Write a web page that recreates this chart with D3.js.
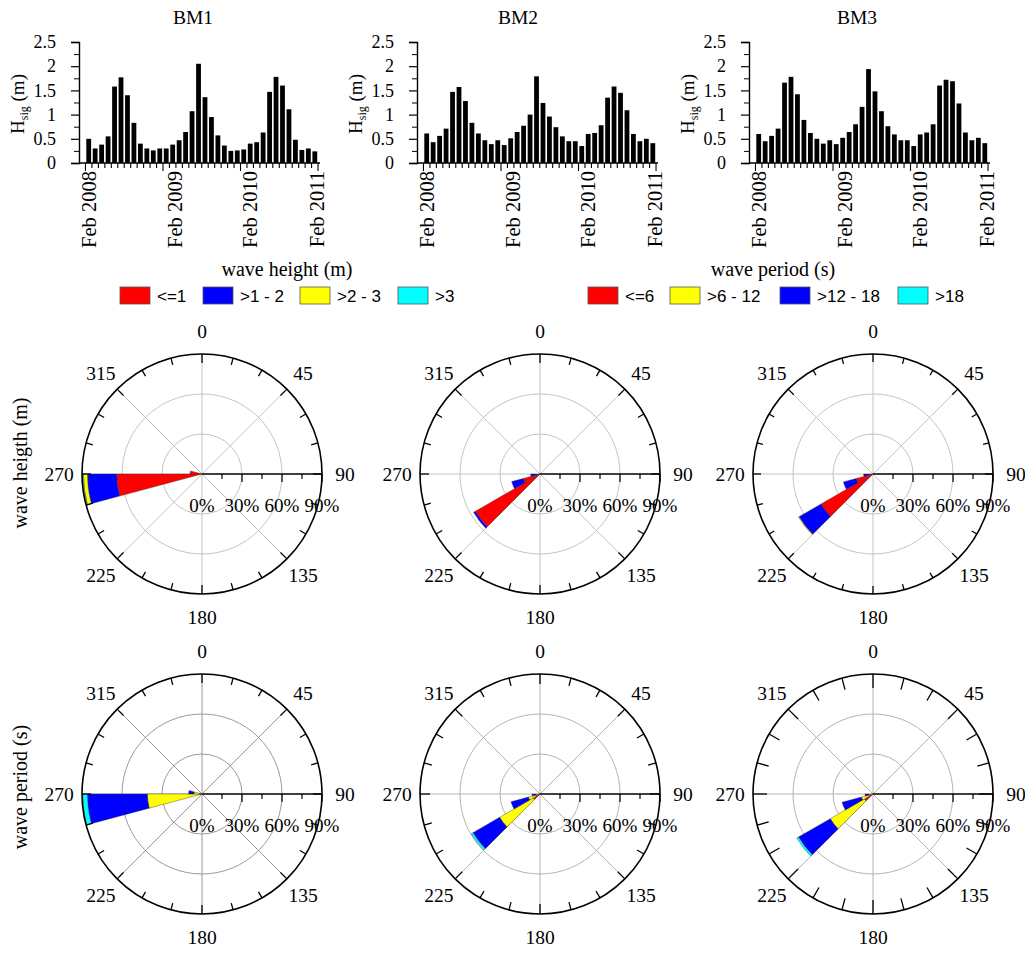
<!DOCTYPE html>
<html>
<head>
<meta charset="utf-8">
<script src="https://cdn.jsdelivr.net/npm/d3@7"></script>
<style>
  body { margin: 0; background: #fff; }
  svg { display: block; }
</style>
</head>
<body>
<script>
// Hauteur significative mensuelle (m), Feb 2008 -> Jan 2011
const hsBM1 = [0.5, 0.3, 0.38, 0.55, 1.58, 1.77, 1.4, 0.83, 0.4, 0.3, 0.26, 0.3,
  0.3, 0.38, 0.47, 0.64, 1.07, 2.05, 1.36, 0.95, 0.57, 0.36, 0.25, 0.26,
  0.28, 0.4, 0.43, 0.63, 1.47, 1.78, 1.6, 1.11, 0.48, 0.27, 0.3, 0.24]
const hsBM2 = [0.61, 0.43, 0.56, 0.71, 1.47, 1.57, 1.28, 0.83, 0.61, 0.47, 0.39, 0.47,
  0.37, 0.51, 0.64, 0.77, 1.0, 1.79, 1.24, 0.96, 0.74, 0.55, 0.45, 0.45,
  0.35, 0.6, 0.62, 0.78, 1.35, 1.58, 1.45, 1.09, 0.6, 0.45, 0.5, 0.41]
const hsBM3 = [0.6, 0.45, 0.56, 0.71, 1.66, 1.78, 1.42, 0.89, 0.62, 0.5, 0.4, 0.47,
  0.39, 0.52, 0.64, 0.8, 1.16, 1.94, 1.48, 1.07, 0.76, 0.59, 0.47, 0.47,
  0.35, 0.59, 0.63, 0.8, 1.6, 1.72, 1.69, 1.23, 0.63, 0.47, 0.52, 0.41]

const stations = ["BM1", "BM2", "BM3"]
const yTicks = [0, 0.5, 1, 1.5, 2, 2.5]
const xTickLabels = ["Feb 2008", "Feb 2009", "Feb 2010", "Feb 2011"]
const xTickMonth = [0, 13.4, 25, 35.4]

// Classes des roses
const heightClasses = ["<=1", ">1 - 2", ">2 - 3", ">3"]
const heightColors = ["#ff0000", "#0000ff", "#ffff00", "#00ffff"]
const periodClasses = ["<=6", ">6 - 12", ">12 - 18", ">18"]
const periodColors = ["#ff0000", "#ffff00", "#0000ff", "#00ffff"]

const dirLabels = [0, 45, 90, 135, 180, 225, 270, 315]
const radialTicks = [0, 30, 60, 90]

// secteurs de 15 degres : dir = debut du secteur, v = % par classe
const roseHeightBM1 = [
  { dir: 255, v: [64, 22, 3, 0.6] },
  { dir: 270, v: [9, 0, 0, 0] }
]
const roseHeightBM2 = [
  { dir: 225, v: [56, 1.5, 0, 0] },
  { dir: 240, v: [13, 9, 0, 0] },
  { dir: 255, v: [2, 5, 0, 0] }
]
const roseHeightBM3 = [
  { dir: 225, v: [45, 19, 0.5, 0] },
  { dir: 240, v: [13, 10, 0, 0] },
  { dir: 255, v: [3, 4, 0, 0] }
]
const rosePeriodBM1 = [
  { dir: 255, v: [2, 39, 45, 3.5] },
  { dir: 270, v: [2, 4, 4, 0] }
]
const rosePeriodBM2 = [
  { dir: 225, v: [6, 29, 23, 1.5] },
  { dir: 240, v: [3, 6, 13.5, 0] },
  { dir: 255, v: [1, 2, 3, 0] }
]
const rosePeriodBM3 = [
  { dir: 225, v: [7.5, 29.5, 27.5, 1.5] },
  { dir: 240, v: [3, 6, 15, 0] },
  { dir: 255, v: [1, 2, 3, 0] }
]

const serif = "'Liberation Serif', 'Times New Roman', serif"
const sans = "'Liberation Sans', Arial, sans-serif"

let svg = d3.select("body")
  .append("svg")
  .attr("width", 1025)
  .attr("height", 953)

svg.append("rect").attr("width", 1025).attr("height", 953).attr("fill", "#fff")

// ---------- Histogrammes ----------
let barPanels = [
  { data: hsBM1, x0: 79, titleX: 193 },
  { data: hsBM2, x0: 417, titleX: 518 },
  { data: hsBM3, x0: 749, titleX: 857 }
]
let barTop = 42, barBottom = 163, axisLen = 241

barPanels.forEach((p, i) => {
  let g = svg.append("g")

  let x = d3.scaleLinear()
    .domain([0, 35])
    .range([p.x0 + 9.7, p.x0 + 235.8])
  let y = d3.scaleLinear()
    .domain([0, 2.5])
    .range([barBottom, barTop])

  g.append("text")
    .attr("x", p.titleX)
    .attr("y", 24)
    .attr("text-anchor", "middle")
    .style("font-family", serif)
    .style("font-size", "19.5px")
    .text(stations[i])

  // bars
  g.append("g")
    .selectAll("rect")
    .data(p.data)
    .join("rect")
    .attr("x", (d, k) => x(k) - 2.4)
    .attr("width", 4.8)
    .attr("y", d => y(d))
    .attr("height", d => y(0) - y(d))
    .attr("fill", "#000")

  // axe Y
  let yAxis = g.append("g")
    .attr("transform", "translate(" + p.x0 + ",0)")
    .call(d3.axisLeft(y).tickValues(yTicks).tickSize(8).tickPadding(15).tickFormat(d3.format("")))
  yAxis.select(".domain").attr("stroke-width", 1.4)
  yAxis.selectAll(".tick line").attr("stroke-width", 1.2)
  yAxis.selectAll("text")
    .style("font-family", serif)
    .style("font-size", "18px")
    .attr("fill", "#000")
  g.append("g")
    .attr("transform", "translate(" + p.x0 + ",0)")
    .call(d3.axisLeft(y).tickValues([0.25, 0.75, 1.25, 1.75, 2.25]).tickSize(5).tickFormat(""))
    .call(s => s.select(".domain").remove())

  // axe X
  g.append("line")
    .attr("x1", p.x0).attr("x2", p.x0 + axisLen)
    .attr("y1", barBottom).attr("y2", barBottom)
    .attr("stroke", "#000").attr("stroke-width", 1.4)
  g.append("g")
    .selectAll("line")
    .data(d3.range(37))
    .join("line")
    .attr("x1", k => x(k - 0.5)).attr("x2", k => x(k - 0.5))
    .attr("y1", barBottom)
    .attr("y2", k => (k === 0 || k === 12 || k === 24 || k === 36) ? barBottom + 8 : barBottom + 5)
    .attr("stroke", "#000").attr("stroke-width", 1.1)

  g.append("g")
    .selectAll("text")
    .data(xTickLabels)
    .join("text")
    .attr("transform", (d, k) => "translate(" + (x(xTickMonth[k]) + 7) + "," + (barBottom + 8) + ") rotate(-90)")
    .attr("text-anchor", "end")
    .style("font-family", serif)
    .style("font-size", "20.5px")
    .text(d => d)

  // label Hsig
  let lab = g.append("text")
    .attr("transform", "translate(" + (p.x0 - 55) + ",104) rotate(-90)")
    .attr("text-anchor", "middle")
    .style("font-family", serif)
    .style("font-size", "19px")
  lab.append("tspan").text("H")
  lab.append("tspan").attr("dy", 4).style("font-size", "12px").text("sig")
  lab.append("tspan").attr("dy", -4).text(" (m)")
})

// ---------- Legendes ----------
function drawLegend(title, titleX, classes, colors, boxX) {
  let g = svg.append("g")
  g.append("text")
    .attr("x", titleX).attr("y", 276)
    .attr("text-anchor", "middle")
    .style("font-family", serif)
    .style("font-size", "20px")
    .text(title)
  classes.forEach((c, k) => {
    g.append("rect")
      .attr("x", boxX[k]).attr("y", 287)
      .attr("width", 30).attr("height", 17)
      .attr("fill", colors[k])
      .attr("stroke", "#555").attr("stroke-width", 0.8)
    g.append("text")
      .attr("x", boxX[k] + 37).attr("y", 302)
      .style("font-family", sans)
      .style("font-size", "17px")
      .text(c)
  })
}
drawLegend("wave height (m)", 287, heightClasses, heightColors, [120, 203, 300, 398])
drawLegend("wave period (s)", 773, periodClasses, periodColors, [588, 670, 780, 898])

// ---------- Roses ----------
const R = 120
let r = d3.scaleLinear().domain([0, 90]).range([0, R])
const rad = deg => deg * Math.PI / 180
const px = (deg, d) => Math.sin(rad(deg)) * d
const py = (deg, d) => -Math.cos(rad(deg)) * d

function drawRose(cx, cy, sectors, colors, gridColor, tickLen) {
  let g = svg.append("g").attr("transform", "translate(" + cx + "," + cy + ")")

  // grille
  g.selectAll("circle.grid")
    .data([30, 60])
    .join("circle")
    .attr("class", "grid")
    .attr("r", d => r(d))
    .attr("fill", "none")
    .attr("stroke", gridColor)
    .attr("stroke-width", 1)
  g.selectAll("line.spoke")
    .data([0, 45, 135, 180, 225, 270, 315])
    .join("line")
    .attr("class", "spoke")
    .attr("x1", 0).attr("y1", 0)
    .attr("x2", d => px(d, R)).attr("y2", d => py(d, R))
    .attr("stroke", gridColor)
    .attr("stroke-width", 1)

  // secteurs empiles
  let arc = d3.arc()
  sectors.forEach(s => {
    let cum = 0
    s.v.forEach((v, k) => {
      if (v <= 0) return
      g.append("path")
        .attr("d", arc({
          innerRadius: r(cum),
          outerRadius: r(cum + v),
          startAngle: rad(s.dir),
          endAngle: rad(s.dir + 15)
        }))
        .attr("fill", colors[k])
        .attr("stroke", "#333")
        .attr("stroke-width", 0.4)
      cum += v
    })
  })

  // cercle exterieur + graduations
  g.append("circle")
    .attr("r", R)
    .attr("fill", "none")
    .attr("stroke", "#000")
    .attr("stroke-width", 1.6)
  g.selectAll("line.tick")
    .data(d3.range(0, 360, 15))
    .join("line")
    .attr("class", "tick")
    .attr("x1", d => px(d, R)).attr("y1", d => py(d, R))
    .attr("x2", d => px(d, R - (d % 45 === 0 ? tickLen + 2 : tickLen)))
    .attr("y2", d => py(d, R - (d % 45 === 0 ? tickLen + 2 : tickLen)))
    .attr("stroke", "#000")
    .attr("stroke-width", 1.3)

  // axe radial
  g.append("line")
    .attr("x1", 0).attr("y1", 0).attr("x2", R).attr("y2", 0)
    .attr("stroke", "#000").attr("stroke-width", 1.4)
  g.selectAll("line.rtick")
    .data([15, 30, 45, 60, 75, 90])
    .join("line")
    .attr("class", "rtick")
    .attr("x1", d => r(d)).attr("x2", d => r(d))
    .attr("y1", 0).attr("y2", d => d % 30 === 0 ? 8 : 5)
    .attr("stroke", "#000").attr("stroke-width", 1.2)
  g.selectAll("text.rlab")
    .data(radialTicks)
    .join("text")
    .attr("class", "rlab")
    .attr("x", d => r(d)).attr("y", 38)
    .attr("text-anchor", "middle")
    .style("font-family", serif)
    .style("font-size", "19px")
    .text(d => d + "%")

  g.selectAll("text.dlab")
    .data(dirLabels)
    .join("text")
    .attr("class", "dlab")
    .attr("x", d => px(d, R + 23))
    .attr("y", d => py(d, R + 23))
    .attr("text-anchor", "middle")
    .attr("dy", "0.35em")
    .style("font-family", serif)
    .style("font-size", "19.5px")
    .text(d => d)
}

let roseX = [202, 540, 873]
drawRose(roseX[0], 474, roseHeightBM1, heightColors, "#c4c4c4", 7)
drawRose(roseX[1], 474, roseHeightBM2, heightColors, "#c4c4c4", 7)
drawRose(roseX[2], 474, roseHeightBM3, heightColors, "#c4c4c4", 6)
drawRose(roseX[0], 794, rosePeriodBM1, periodColors, "#9a9a9a", 7)
drawRose(roseX[1], 794, rosePeriodBM2, periodColors, "#b4b4b4", 8)
drawRose(roseX[2], 794, rosePeriodBM3, periodColors, "#b4b4b4", 12)

// titres de lignes
svg.append("text")
  .attr("transform", "translate(27,463) rotate(-90)")
  .attr("text-anchor", "middle")
  .style("font-family", serif)
  .style("font-size", "20px")
  .text("wave heigth (m)")
svg.append("text")
  .attr("transform", "translate(27,787) rotate(-90)")
  .attr("text-anchor", "middle")
  .style("font-family", serif)
  .style("font-size", "20px")
  .text("wave period (s)")
</script>
</body>
</html>
